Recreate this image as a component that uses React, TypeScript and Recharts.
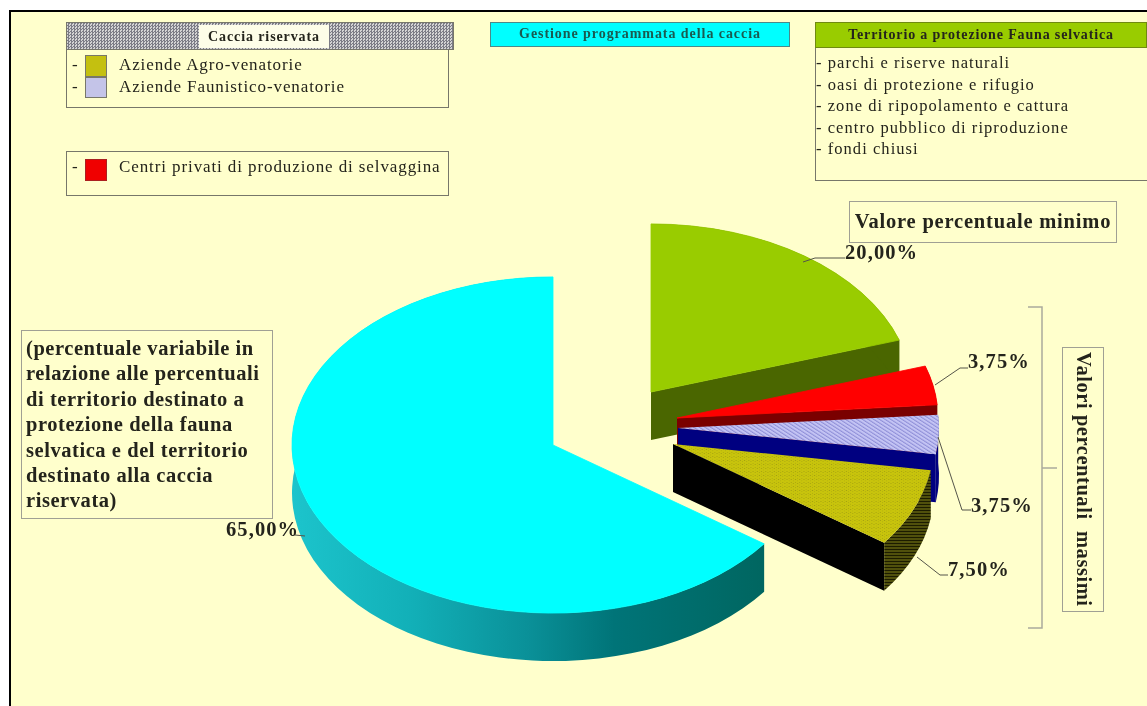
import React from "react";
import { PieChart, Pie, Sector } from "recharts";

const sliceNames = ["Territorio a protezione", "Centri privati", "Aziende Faunistico-venatorie", "Aziende Agro-venatorie", "Gestione programmata"];
const sliceValues = [20, 3.75, 3.75, 7.5, 65];
const topFills = ["#99cc00", "#ff0000", "url(#hatchLilac)", "url(#hatchOlive)", "#00ffff"];
const cutFills = ["#4a6600", "#7a0000", "#000080", "#000000", "#007070"];
const wallFills = ["#4a6600", "#7a0000", "#000080", "url(#hatchWall)", "url(#cyanWall)"];

const explode = [[98, -53], [124, -27], [125, -17], [120, -1], [0, 0]];
const labelPos = [[845, 259], [968, 368], [971, 512], [948, 576], [226, 536]];
const leaders = [
  "M803 262 L815 258 L845 258",
  "M935 385 L960 368 L968 368",
  "M938 437 L962 510 L971 510",
  "M917 557 L940 575 L948 575",
  "M295 535 L305 536",
];

const caccia = ["Aziende Agro-venatorie", "Aziende Faunistico-venatorie"];
const centri = "Centri privati di produzione di selvaggina";
const territorio = ["- parchi e riserve naturali", "- oasi di protezione e rifugio", "- zone di ripopolamento e cattura", "- centro pubblico di riproduzione", "- fondi chiusi"];
const variabile = ["(percentuale variabile in", "relazione alle percentuali", "di territorio destinato a", "protezione della fauna", "selvatica e del territorio", "destinato alla caccia", "riservata)"];

const data = sliceNames.map((name, i) => ({ name, value: sliceValues[i], index: i }));

const CX = 553, CY = 445, R = 261, SQUASH = 0.644, DEPTH = 48;
const serif = "'Liberation Serif', serif";
const ink = "#24241c";

const point = (cx: number, cy: number, a: number) => {
  const t = (a * Math.PI) / 180;
  return [cx + R * Math.cos(t), cy - R * SQUASH * Math.sin(t)];
};

function Slice(props: any) {
  const { cx, cy, startAngle, endAngle, outerRadius, payload } = props;
  const i = payload.index;
  const [dx, dy] = explode[i];
  const x = cx + dx, y = cy + dy;
  const [sx, sy] = point(x, y, startAngle);
  const [ex, ey] = point(x, y, endAngle);
  const large = Math.abs(startAngle - endAngle) > 180 ? 1 : 0;
  const rx = R, ry = R * SQUASH;
  const wall = `M${sx} ${sy} A${rx} ${ry} 0 ${large} 1 ${ex} ${ey} L${ex} ${ey + DEPTH} A${rx} ${ry} 0 ${large} 0 ${sx} ${sy + DEPTH} Z`;
  const cut = `M${x} ${y} L${ex} ${ey} L${ex} ${ey + DEPTH} L${x} ${y + DEPTH} Z`;
  const solid = topFills[i].startsWith("#");
  return (
    <g>
      <path d={cut} fill={cutFills[i]} />
      <path d={wall} fill={wallFills[i]} />
      <g transform={`translate(${x} ${y}) scale(1 ${SQUASH}) translate(${-x} ${-y})`}>
        <Sector cx={x} cy={y} innerRadius={0} outerRadius={outerRadius} startAngle={startAngle} endAngle={endAngle} fill={topFills[i]} stroke={solid ? topFills[i] : "none"} strokeWidth={1} />
      </g>
    </g>
  );
}

function SliceLabel(props: any) {
  const i = props.index;
  const [x, y] = labelPos[i];
  const text = sliceValues[i].toFixed(2).replace(".", ",") + "%";
  return (
    <g>
      <path d={leaders[i]} fill="none" stroke="#55554a" strokeWidth={1} />
      <text x={x} y={y} fontFamily={serif} fontWeight="bold" fontSize={20.5} letterSpacing={1.1} fill={ink}>{text}</text>
    </g>
  );
}

const abs = (left: number, top: number, width: number, height: number): React.CSSProperties => ({
  position: "absolute", left, top, width, height, boxSizing: "border-box",
});
const hatchGrey = "repeating-conic-gradient(#7c7c86 0 25%, #d4d4d4 0 50%) 0 0 / 3px 3px";

function Line({ left, top, children, size = 17, spacing = 0.9 }: any) {
  return (
    <div style={{ position: "absolute", left, top, whiteSpace: "nowrap", fontFamily: serif, fontSize: size, color: ink, lineHeight: "20px", letterSpacing: spacing }}>
      {children}
    </div>
  );
}

export default function App() {
  const boxBorder = "1.5px solid #77776a";
  return (
    <div style={{ position: "absolute", left: 0, top: 0, width: 1147, height: 706, background: "#ffffff", overflow: "hidden", filter: "blur(0.5px)" }}>
      <div style={{ ...abs(9, 10, 1138, 696), background: "#ffffcc", borderTop: "2px solid #000", borderLeft: "2px solid #000" }} />

      <div style={{ position: "absolute", left: 0, top: 0 }}>
        <PieChart width={1147} height={706} margin={{ top: 0, right: 0, bottom: 0, left: 0 }}>
          <defs>
            <pattern id="hatchLilac" width="4" height="4" patternUnits="userSpaceOnUse" patternTransform="rotate(-45)">
              <rect width="4" height="4" fill="#c4c4f4" />
              <rect width="1.4" height="4" fill="#8f8fd8" />
            </pattern>
            <pattern id="hatchOlive" width="3" height="3" patternUnits="userSpaceOnUse" patternTransform="rotate(45)">
              <rect width="3" height="3" fill="#c8c40c" />
              <rect width="1" height="1" fill="#a09c10" />
            </pattern>
            <pattern id="hatchWall" width="3" height="3" patternUnits="userSpaceOnUse">
              <rect width="3" height="3" fill="#50500c" />
              <rect width="3" height="1" fill="#1c1c00" />
            </pattern>
            <linearGradient id="cyanWall" gradientUnits="userSpaceOnUse" x1={292} y1={0} x2={766} y2={0}>
              <stop offset="0" stopColor="#1cc4cc" />
              <stop offset="0.25" stopColor="#12b0b8" />
              <stop offset="0.5" stopColor="#0a9098" />
              <stop offset="0.68" stopColor="#007478" />
              <stop offset="1" stopColor="#006660" />
            </linearGradient>
          </defs>
          <Pie
            data={data}
            dataKey="value"
            nameKey="name"
            cx={CX}
            cy={CY}
            innerRadius={0}
            outerRadius={R}
            startAngle={90}
            endAngle={-270}
            stroke="none"
            isAnimationActive={false}
            shape={Slice}
            label={SliceLabel}
            labelLine={false}
          />
        </PieChart>
      </div>

      {/* Caccia riservata */}
      <div style={{ ...abs(66, 40, 383, 68), border: boxBorder }} />
      <div style={{ ...abs(66, 22, 388, 28), background: hatchGrey, border: "1px solid #77776a" }} />
      <div style={{ ...abs(199, 25, 130, 23), background: "#fdfde8", textAlign: "center", fontFamily: serif, fontWeight: "bold", fontSize: 14, lineHeight: "23px", color: ink, letterSpacing: 0.9 }}>Caccia riservata</div>
      <div style={{ ...abs(85, 55, 22, 22), background: "#c4c010", border: "1px solid #77776a" }} />
      <div style={{ ...abs(85, 77, 22, 21), background: "#c4c4e8", border: "1px solid #77776a" }} />
      <Line left={72} top={55}>-</Line>
      <Line left={72} top={77}>-</Line>
      <Line left={119} top={55}>{caccia[0]}</Line>
      <Line left={119} top={77}>{caccia[1]}</Line>

      {/* Centri privati */}
      <div style={{ ...abs(66, 151, 383, 45), border: boxBorder }} />
      <div style={{ ...abs(85, 159, 22, 22), background: "#f00000", border: "1px solid #aa2020" }} />
      <Line left={72} top={157}>-</Line>
      <Line left={119} top={157}>{centri}</Line>

      {/* Gestione programmata */}
      <div style={{ ...abs(490, 22, 300, 25), background: "#00ffff", border: "1px solid #4a8a8a", textAlign: "center", fontFamily: serif, fontWeight: "bold", fontSize: 14, lineHeight: "22px", color: "#1a5a50", letterSpacing: 0.94 }}>Gestione programmata della caccia</div>

      {/* Territorio */}
      <div style={{ ...abs(815, 22, 332, 159), border: boxBorder, borderRight: "none" }} />
      <div style={{ ...abs(815, 22, 332, 26), background: "#99cc00", border: "1px solid #6f8a10", textAlign: "center", fontFamily: serif, fontWeight: "bold", fontSize: 14, lineHeight: "23px", color: ink, letterSpacing: 0.85 }}>Territorio a protezione Fauna selvatica</div>
      {territorio.map((t, i) => (
        <Line key={t} left={816} top={53 + i * 21.6} size={16.5} spacing={1.05}>{t}</Line>
      ))}

      {/* Valore percentuale minimo */}
      <div style={{ ...abs(849, 201, 268, 42), border: "1.5px solid #a0a094", textAlign: "center", fontFamily: serif, fontWeight: "bold", fontSize: 20.5, lineHeight: "39px", color: ink, letterSpacing: 0.8, whiteSpace: "nowrap" }}>Valore percentuale minimo</div>

      {/* Percentuale variabile */}
      <div style={{ ...abs(21, 330, 252, 189), border: "1.5px solid #a0a094" }} />
      {variabile.map((t, i) => (
        <div key={t} style={{ position: "absolute", left: 26, top: 336 + i * 25.4, whiteSpace: "nowrap", fontFamily: serif, fontWeight: "bold", fontSize: 20.5, lineHeight: "24px", letterSpacing: 0.56, color: ink }}>{t}</div>
      ))}

      {/* Bracket */}
      <svg width={1147} height={706} style={{ position: "absolute", left: 0, top: 0, pointerEvents: "none" }}>
        <path d="M1028 307 L1042 307 L1042 628 L1028 628 M1042 468 L1057 468" fill="none" stroke="#aaaa9c" strokeWidth={1.5} />
      </svg>

      {/* Valori percentuali massimi */}
      <div style={{ ...abs(1062, 347, 42, 265), border: "1.5px solid #a0a094", display: "flex", alignItems: "center", justifyContent: "center" }}>
        <span style={{ writingMode: "vertical-rl", fontFamily: serif, fontWeight: "bold", fontSize: 20.5, letterSpacing: 0.55, color: ink, whiteSpace: "pre" }}>Valori percentuali  massimi</span>
      </div>
    </div>
  );
}
